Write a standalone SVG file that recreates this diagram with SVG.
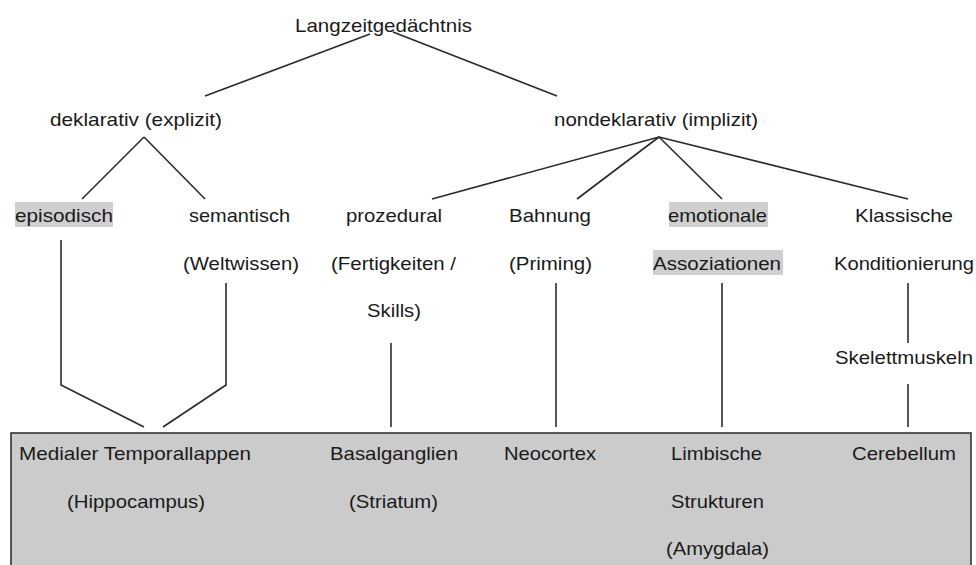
<svg xmlns="http://www.w3.org/2000/svg" width="976" height="565" viewBox="0 0 976 565">
<style>
text{font-family:"Liberation Sans",Arial,sans-serif;font-size:19px;fill:#1a1a1a}
.c line,.c polyline{stroke:#2a2a2a;stroke-width:1.6;fill:none}
.hl{fill:#cfcfcf}
</style>
<rect width="976" height="565" fill="#ffffff"/>
<g id="box">
<rect x="11" y="433" width="960" height="140" fill="#cbcbcb" stroke="#333" stroke-width="1.6"/>
</g>
<g class="c" id="connectors">
<line x1="370" y1="34" x2="205" y2="96"/>
<line x1="393" y1="32" x2="557" y2="96"/>
<line x1="144" y1="137" x2="82" y2="199"/>
<line x1="144" y1="137" x2="205" y2="199"/>
<line x1="659" y1="137" x2="432" y2="199"/>
<line x1="659" y1="137" x2="577" y2="199"/>
<line x1="659" y1="137" x2="722" y2="199"/>
<line x1="659" y1="137" x2="908" y2="199"/>
<polyline points="61,240 61,385 144,427"/>
<polyline points="226,283 226,385 163,427"/>
<line x1="391" y1="343" x2="391" y2="427"/>
<line x1="556" y1="283" x2="556" y2="427"/>
<line x1="722" y1="283" x2="722" y2="427"/>
<line x1="908" y1="283" x2="908" y2="343"/>
<line x1="908" y1="384" x2="908" y2="427"/>
</g>
<g id="n-langzeit"><text x="295" y="32" textLength="177" lengthAdjust="spacingAndGlyphs">Langzeitgedächtnis</text></g>
<g id="n-deklarativ"><text x="50" y="126" textLength="172" lengthAdjust="spacingAndGlyphs">deklarativ (explizit)</text></g>
<g id="n-nondeklarativ"><text x="554" y="126" textLength="204" lengthAdjust="spacingAndGlyphs">nondeklarativ (implizit)</text></g>
<g id="n-episodisch"><rect class="hl" x="15" y="202" width="98" height="25"/><text x="15" y="222" textLength="98" lengthAdjust="spacingAndGlyphs">episodisch</text></g>
<g id="n-semantisch"><text x="189" y="222" textLength="101" lengthAdjust="spacingAndGlyphs">semantisch</text><text x="183" y="270" textLength="116" lengthAdjust="spacingAndGlyphs">(Weltwissen)</text></g>
<g id="n-prozedural"><text x="346" y="222" textLength="96" lengthAdjust="spacingAndGlyphs">prozedural</text><text x="331" y="270" textLength="125" lengthAdjust="spacingAndGlyphs">(Fertigkeiten /</text><text x="367" y="317" textLength="54" lengthAdjust="spacingAndGlyphs">Skills)</text></g>
<g id="n-bahnung"><text x="509" y="222" textLength="82" lengthAdjust="spacingAndGlyphs">Bahnung</text><text x="509" y="270" textLength="83" lengthAdjust="spacingAndGlyphs">(Priming)</text></g>
<g id="n-emotionale"><rect class="hl" x="669" y="202" width="99" height="25"/><text x="668" y="222" textLength="99" lengthAdjust="spacingAndGlyphs">emotionale</text><rect class="hl" x="653" y="250" width="130" height="25"/><text x="653" y="270" textLength="128" lengthAdjust="spacingAndGlyphs">Assoziationen</text></g>
<g id="n-klassische"><text x="855" y="222" textLength="98" lengthAdjust="spacingAndGlyphs">Klassische</text><text x="834" y="270" textLength="140" lengthAdjust="spacingAndGlyphs">Konditionierung</text></g>
<g id="n-skelett"><text x="835" y="364" textLength="138" lengthAdjust="spacingAndGlyphs">Skelettmuskeln</text></g>
<g id="n-mtl"><text x="19" y="460" textLength="232" lengthAdjust="spacingAndGlyphs">Medialer Temporallappen</text><text x="67" y="508" textLength="138" lengthAdjust="spacingAndGlyphs">(Hippocampus)</text></g>
<g id="n-basal"><text x="330" y="460" textLength="128" lengthAdjust="spacingAndGlyphs">Basalganglien</text><text x="349" y="508" textLength="89" lengthAdjust="spacingAndGlyphs">(Striatum)</text></g>
<g id="n-neocortex"><text x="504" y="460" textLength="92" lengthAdjust="spacingAndGlyphs">Neocortex</text></g>
<g id="n-limbisch"><text x="671" y="460" textLength="91" lengthAdjust="spacingAndGlyphs">Limbische</text><text x="671" y="508" textLength="93" lengthAdjust="spacingAndGlyphs">Strukturen</text><text x="666" y="555" textLength="103" lengthAdjust="spacingAndGlyphs">(Amygdala)</text></g>
<g id="n-cerebellum"><text x="852" y="460" textLength="104" lengthAdjust="spacingAndGlyphs">Cerebellum</text></g>
</svg>
